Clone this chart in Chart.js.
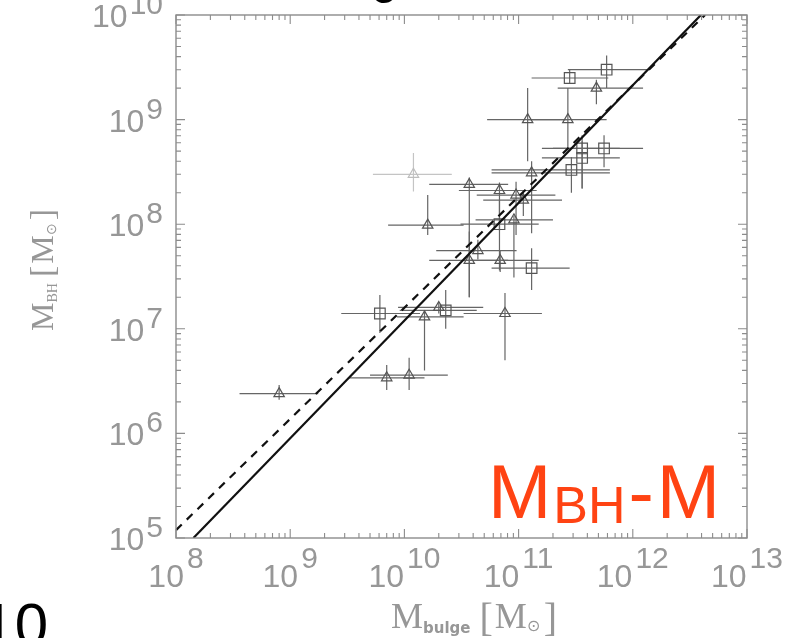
<!DOCTYPE html>
<html>
<head>
<meta charset="utf-8">
<script src="https://cdn.jsdelivr.net/npm/chart.js@4.4.1/dist/chart.umd.min.js"></script>
<style>
    html, body { margin: 0; padding: 0; background: #fff; }
    #wrap { position: relative; width: 794px; height: 638px; }
</style>
</head>
<body>
<div id="wrap"><canvas id="chart" width="794" height="638"></canvas></div>
<script>
/* =========================
   DATA
========================= */

// square markers
const sqX   = [5.9e11, 2.8e11, 3.6e11, 3.6e11, 5.6e11, 2.9e11, 6.8e10, 1.3e11, 6.1e9, 2.3e10];
const sqY   = [3.0e9, 2.5e9, 5.3e8, 4.3e8, 5.3e8, 3.3e8, 1.0e8, 3.8e7, 1.4e7, 1.5e7];
const sqXlo = [2.7e11, 1.3e11, 1.6e11, 1.6e11, 2.0e11, 5.8e10, 3.1e10, 5.8e10, 2.8e9, 9.1e9];
const sqXhi = [1.33e12, 6.1e11, 7.7e11, 7.7e11, 1.23e12, 6.3e11, 1.5e11, 2.8e11, 1.37e10, 4.3e10];
const sqYlo = [2.0e9, 2.2e9, 2.2e8, 2.2e8, 3.5e8, 2.0e8, 3.6e7, 2.35e7, 9.1e6, 1.0e7];
const sqYhi = [4.1e9, 3.0e9, 7.1e8, 6.2e8, 7.1e8, 4.4e8, 1.7e8, 5.9e7, 2.1e7, 2.35e7];

// triangle markers
const triX   = [4.8e11, 1.2e11, 2.7e11, 1.3e11, 3.7e10, 6.8e10, 9.5e10, 1.1e11, 1.6e10, 9.1e10,
                4.4e10, 3.7e10, 6.9e10, 1.5e10, 2.0e10, 7.6e10, 7.0e9, 1.1e10, 8.0e8];
const triY   = [2.0e9, 1.0e9, 1.0e9, 3.1e8, 2.4e8, 2.1e8, 1.9e8, 1.7e8, 9.8e7, 1.1e8,
                5.6e7, 4.5e7, 4.5e7, 1.3e7, 1.6e7, 1.4e7, 3.4e6, 3.6e6, 2.4e6];
const triXlo = [2.2e11, 5.3e10, 1.2e11, 5.8e10, 1.65e10, 3.0e10, 4.3e10, 4.9e10, 7.2e9, 4.2e10,
                1.9e10, 1.65e10, 3.3e10, 8.6e9, 8.8e9, 3.3e10, 3.3e9, 5.0e9, 3.6e8];
const triXhi = [1.23e12, 2.7e11, 5.9e11, 6.3e11, 8.1e10, 1.44e11, 2.1e11, 2.4e11, 3.3e10, 2.0e11,
                9.6e10, 8.1e10, 1.5e11, 3.3e10, 4.9e10, 1.6e11, 1.5e10, 2.4e10, 1.76e9];
const triYlo = [1.4e9, 4.0e8, 5.1e8, 8.2e7, 2.0e7, 8.7e7, 7.9e7, 1.2e8, 7.9e7, 3.1e7,
                4.6e7, 2.0e7, 3.5e7, 4.0e6, 1.4e7, 5.0e6, 2.6e6, 2.6e6, 2.1e6];
const triYhi = [2.4e9, 2.0e9, 2.0e9, 4.0e8, 2.8e8, 2.5e8, 2.55e8, 2.1e8, 1.9e8, 1.2e8,
                7.1e7, 8.5e7, 5.6e7, 1.5e7, 1.8e7, 2.2e7, 4.5e6, 5.3e6, 2.9e6];

// faint (excluded) triangle
const faintX   = [1.2e10];
const faintY   = [3.0e8];
const faintXlo = [5.3e9];
const faintXhi = [2.6e10];
const faintYlo = [2.05e8];
const faintYhi = [4.8e8];

// fitted relations (end points on the frame)
const fitSolidX  = [1.42e8, 3.95e12];
const fitSolidY  = [1e5, 1e10];
const fitDashedX = [1e8, 4.29e12];
const fitDashedY = [1.19e5, 1e10];

// axes: powers of ten
const xTickPowers = [8, 9, 10, 11, 12, 13];
const yTickPowers = [5, 6, 7, 8, 9, 10];

/* =========================
   HELPERS
========================= */

function toPoints(xs, ys) {
    return xs.map((x, i) => ({ x: x, y: ys[i] }));
}

const errorGroups = [
    { x: faintX, y: faintY, xlo: faintXlo, xhi: faintXhi, ylo: faintYlo, yhi: faintYhi, color: "#c4c4c4" },
    { x: sqX, y: sqY, xlo: sqXlo, xhi: sqXhi, ylo: sqYlo, yhi: sqYhi, color: "#666" },
    { x: triX, y: triY, xlo: triXlo, xhi: triXhi, ylo: triYlo, yhi: triYhi, color: "#666" }
];

function drawErrorBars(chart) {
    const ctx = chart.ctx;
    const xs = chart.scales.x;
    const ys = chart.scales.y;
    const a = chart.chartArea;

    ctx.save();
    ctx.beginPath();
    ctx.rect(a.left, a.top, a.right - a.left, a.bottom - a.top);
    ctx.clip();
    ctx.lineWidth = 1.2;

    errorGroups.forEach(g => {
        ctx.strokeStyle = g.color;
        g.x.forEach((v, i) => {
            const px = xs.getPixelForValue(v);
            const py = ys.getPixelForValue(g.y[i]);
            ctx.beginPath();
            ctx.moveTo(xs.getPixelForValue(g.xlo[i]), py);
            ctx.lineTo(xs.getPixelForValue(g.xhi[i]), py);
            ctx.moveTo(px, ys.getPixelForValue(g.ylo[i]));
            ctx.lineTo(px, ys.getPixelForValue(g.yhi[i]));
            ctx.stroke();
        });
    });
    ctx.restore();
}

/* =========================
   FRAME + TICKS
========================= */

const AXIS_GREY = "#8c8c8c";
const LABEL_GREY = "#979797";

function drawFrame(chart) {
    const ctx = chart.ctx;
    const xs = chart.scales.x;
    const ys = chart.scales.y;
    const { left, right, top, bottom } = chart.chartArea;

    ctx.save();
    ctx.strokeStyle = AXIS_GREY;
    ctx.lineWidth = 1.4;
    ctx.strokeRect(left, top, right - left, bottom - top);

    ctx.lineWidth = 1.1;
    ctx.beginPath();
    xTickPowers.forEach(p => {
        for (let m = 1; m <= 9; m++) {
            const v = m * Math.pow(10, p);
            if (v > xs.max * 1.0001) break;
            const px = xs.getPixelForValue(v);
            const len = m === 1 ? 9 : 5;
            ctx.moveTo(px, bottom); ctx.lineTo(px, bottom - len);
            ctx.moveTo(px, top); ctx.lineTo(px, top + len);
        }
    });
    yTickPowers.forEach(p => {
        for (let m = 1; m <= 9; m++) {
            const v = m * Math.pow(10, p);
            if (v > ys.max * 1.0001) break;
            const py = ys.getPixelForValue(v);
            const len = m === 1 ? 9 : 5;
            ctx.moveTo(left, py); ctx.lineTo(left + len, py);
            ctx.moveTo(right, py); ctx.lineTo(right - len, py);
        }
    });
    ctx.stroke();
    ctx.restore();
}

function drawTickLabels(chart) {
    const ctx = chart.ctx;
    const xs = chart.scales.x;
    const ys = chart.scales.y;
    const { left, bottom } = chart.chartArea;
    const baseFont = '32px "Liberation Sans"';
    const expFont = '30px "Liberation Sans"';

    ctx.save();
    ctx.fillStyle = LABEL_GREY;
    ctx.textBaseline = "alphabetic";
    ctx.textAlign = "left";

    xTickPowers.forEach(p => {
        const px = xs.getPixelForValue(Math.pow(10, p));
        ctx.font = baseFont;
        const wb = ctx.measureText("10").width;
        ctx.font = expFont;
        const we = ctx.measureText(String(p)).width;
        const x0 = px - (wb + 3 + we) / 2;
        ctx.font = baseFont;
        ctx.fillText("10", x0, bottom + 49);
        ctx.font = expFont;
        ctx.fillText(String(p), x0 + wb + 3, bottom + 30);
    });

    ctx.textAlign = "right";
    yTickPowers.forEach(p => {
        const py = ys.getPixelForValue(Math.pow(10, p));
        const xr = left - 13;
        ctx.font = expFont;
        const we = ctx.measureText(String(p)).width;
        ctx.fillText(String(p), xr, py - 1);
        ctx.font = baseFont;
        ctx.fillText("10", xr - we - 2, py + 12);
    });
    ctx.restore();
}

/* =========================
   TITLES + NOTES
========================= */

// draws a row of text pieces starting at x, each with its own font and baseline shift
function drawPieces(ctx, pieces, x, y) {
    let cx = x;
    pieces.forEach(pc => {
        ctx.font = pc.font;
        ctx.fillText(pc.t, cx, y + (pc.dy || 0));
        cx += ctx.measureText(pc.t).width + (pc.gap || 0);
    });
    return cx;
}

function piecesWidth(ctx, pieces) {
    let w = 0;
    pieces.forEach(pc => {
        ctx.font = pc.font;
        w += ctx.measureText(pc.t).width + (pc.gap || 0);
    });
    return w;
}

function drawTitles(chart) {
    const ctx = chart.ctx;
    ctx.save();
    ctx.fillStyle = LABEL_GREY;
    ctx.textAlign = "left";
    ctx.textBaseline = "alphabetic";

    const serif = '"Liberation Serif"';
    const xTitle = [
        { t: "M", font: "36px " + serif },
        { t: "bulge", font: 'bold 15px "DejaVu Sans"', dy: 5, gap: 9 },
        { t: "[", font: "40px " + serif, dy: 3, gap: 2 },
        { t: "M", font: "36px " + serif },
        { t: "\u2299", font: "16px " + serif, dy: 3, gap: 4 },
        { t: "]", font: "40px " + serif, dy: 3 }
    ];
    drawPieces(ctx, xTitle, 391, 628);

    const yTitle = [
        { t: "M", font: "32px " + serif },
        { t: "BH", font: "14px " + serif, dy: 4, gap: 6 },
        { t: "[", font: "34px " + serif, gap: 2 },
        { t: "M", font: "32px " + serif },
        { t: "\u2299", font: "14px " + serif, dy: 3, gap: 3 },
        { t: "]", font: "34px " + serif }
    ];
    const w = piecesWidth(ctx, yTitle);
    ctx.translate(53, 270);
    ctx.rotate(-Math.PI / 2);
    drawPieces(ctx, yTitle, -w / 2, 0);
    ctx.restore();
}

function drawNotes(chart) {
    const ctx = chart.ctx;
    ctx.save();
    ctx.textBaseline = "alphabetic";
    ctx.textAlign = "left";

    ctx.fillStyle = "#ff4313";
    const sans = '"Liberation Sans"';
    drawPieces(ctx, [
        { t: "M", font: "76px " + sans, gap: 2 },
        { t: "BH", font: "52px " + sans, dy: 5, gap: 3 },
        { t: "-", font: "76px " + sans, gap: 3 },
        { t: "M", font: "76px " + sans }
    ], 488, 518);

    // slide fragments cut by the crop
    ctx.fillStyle = "#000";
    ctx.font = '60px "Liberation Sans"';
    ctx.textAlign = "right";
    ctx.fillText("10", 48, 645);
    ctx.textAlign = "center";
    ctx.font = 'bold 42px "Liberation Sans"';
    ctx.fillText("o", 384, 3);
    ctx.restore();
}

const decorPlugin = {
    id: "decor",
    beforeDatasetsDraw(chart) {
        drawErrorBars(chart);
    },
    afterDraw(chart) {
        drawFrame(chart);
        drawTickLabels(chart);
        drawTitles(chart);
        drawNotes(chart);
    }
};

/* =========================
   CHART
========================= */

new Chart(document.getElementById("chart"), {
    type: "scatter",
    data: {
        datasets: [
            {
                label: "fit",
                type: "line",
                data: toPoints(fitSolidX, fitSolidY),
                borderColor: "#111",
                borderWidth: 2.2,
                pointRadius: 0,
                fill: false,
                order: 0
            },
            {
                label: "fit (dashed)",
                type: "line",
                data: toPoints(fitDashedX, fitDashedY),
                borderColor: "#111",
                borderWidth: 2.2,
                borderDash: [8, 7],
                pointRadius: 0,
                fill: false,
                order: 0
            },
            {
                label: "squares",
                data: toPoints(sqX, sqY),
                pointStyle: "rect",
                pointRadius: 7.5,
                borderColor: "#555",
                backgroundColor: "rgba(0,0,0,0)",
                borderWidth: 1.2,
                order: 1
            },
            {
                label: "triangles",
                data: toPoints(triX, triY),
                pointStyle: "triangle",
                pointRadius: 6,
                borderColor: "#555",
                backgroundColor: "rgba(0,0,0,0)",
                borderWidth: 1.2,
                order: 1
            },
            {
                label: "excluded",
                data: toPoints(faintX, faintY),
                pointStyle: "triangle",
                pointRadius: 6,
                borderColor: "#bdbdbd",
                backgroundColor: "rgba(0,0,0,0)",
                borderWidth: 1.2,
                order: 1
            }
        ]
    },
    options: {
        responsive: false,
        animation: false,
        devicePixelRatio: 1,
        layout: { padding: { top: 15, right: 47, left: 0, bottom: 0 } },
        plugins: {
            legend: { display: false },
            tooltip: { enabled: false }
        },
        scales: {
            x: {
                type: "logarithmic",
                min: 1e8,
                max: 1e13,
                grid: { display: false },
                border: { display: false },
                ticks: { display: false },
                afterFit: s => { s.height = 100; }
            },
            y: {
                type: "logarithmic",
                min: 1e5,
                max: 1e10,
                grid: { display: false },
                border: { display: false },
                ticks: { display: false },
                afterFit: s => { s.width = 176; }
            }
        }
    },
    plugins: [decorPlugin]
});
</script>
</body>
</html>
